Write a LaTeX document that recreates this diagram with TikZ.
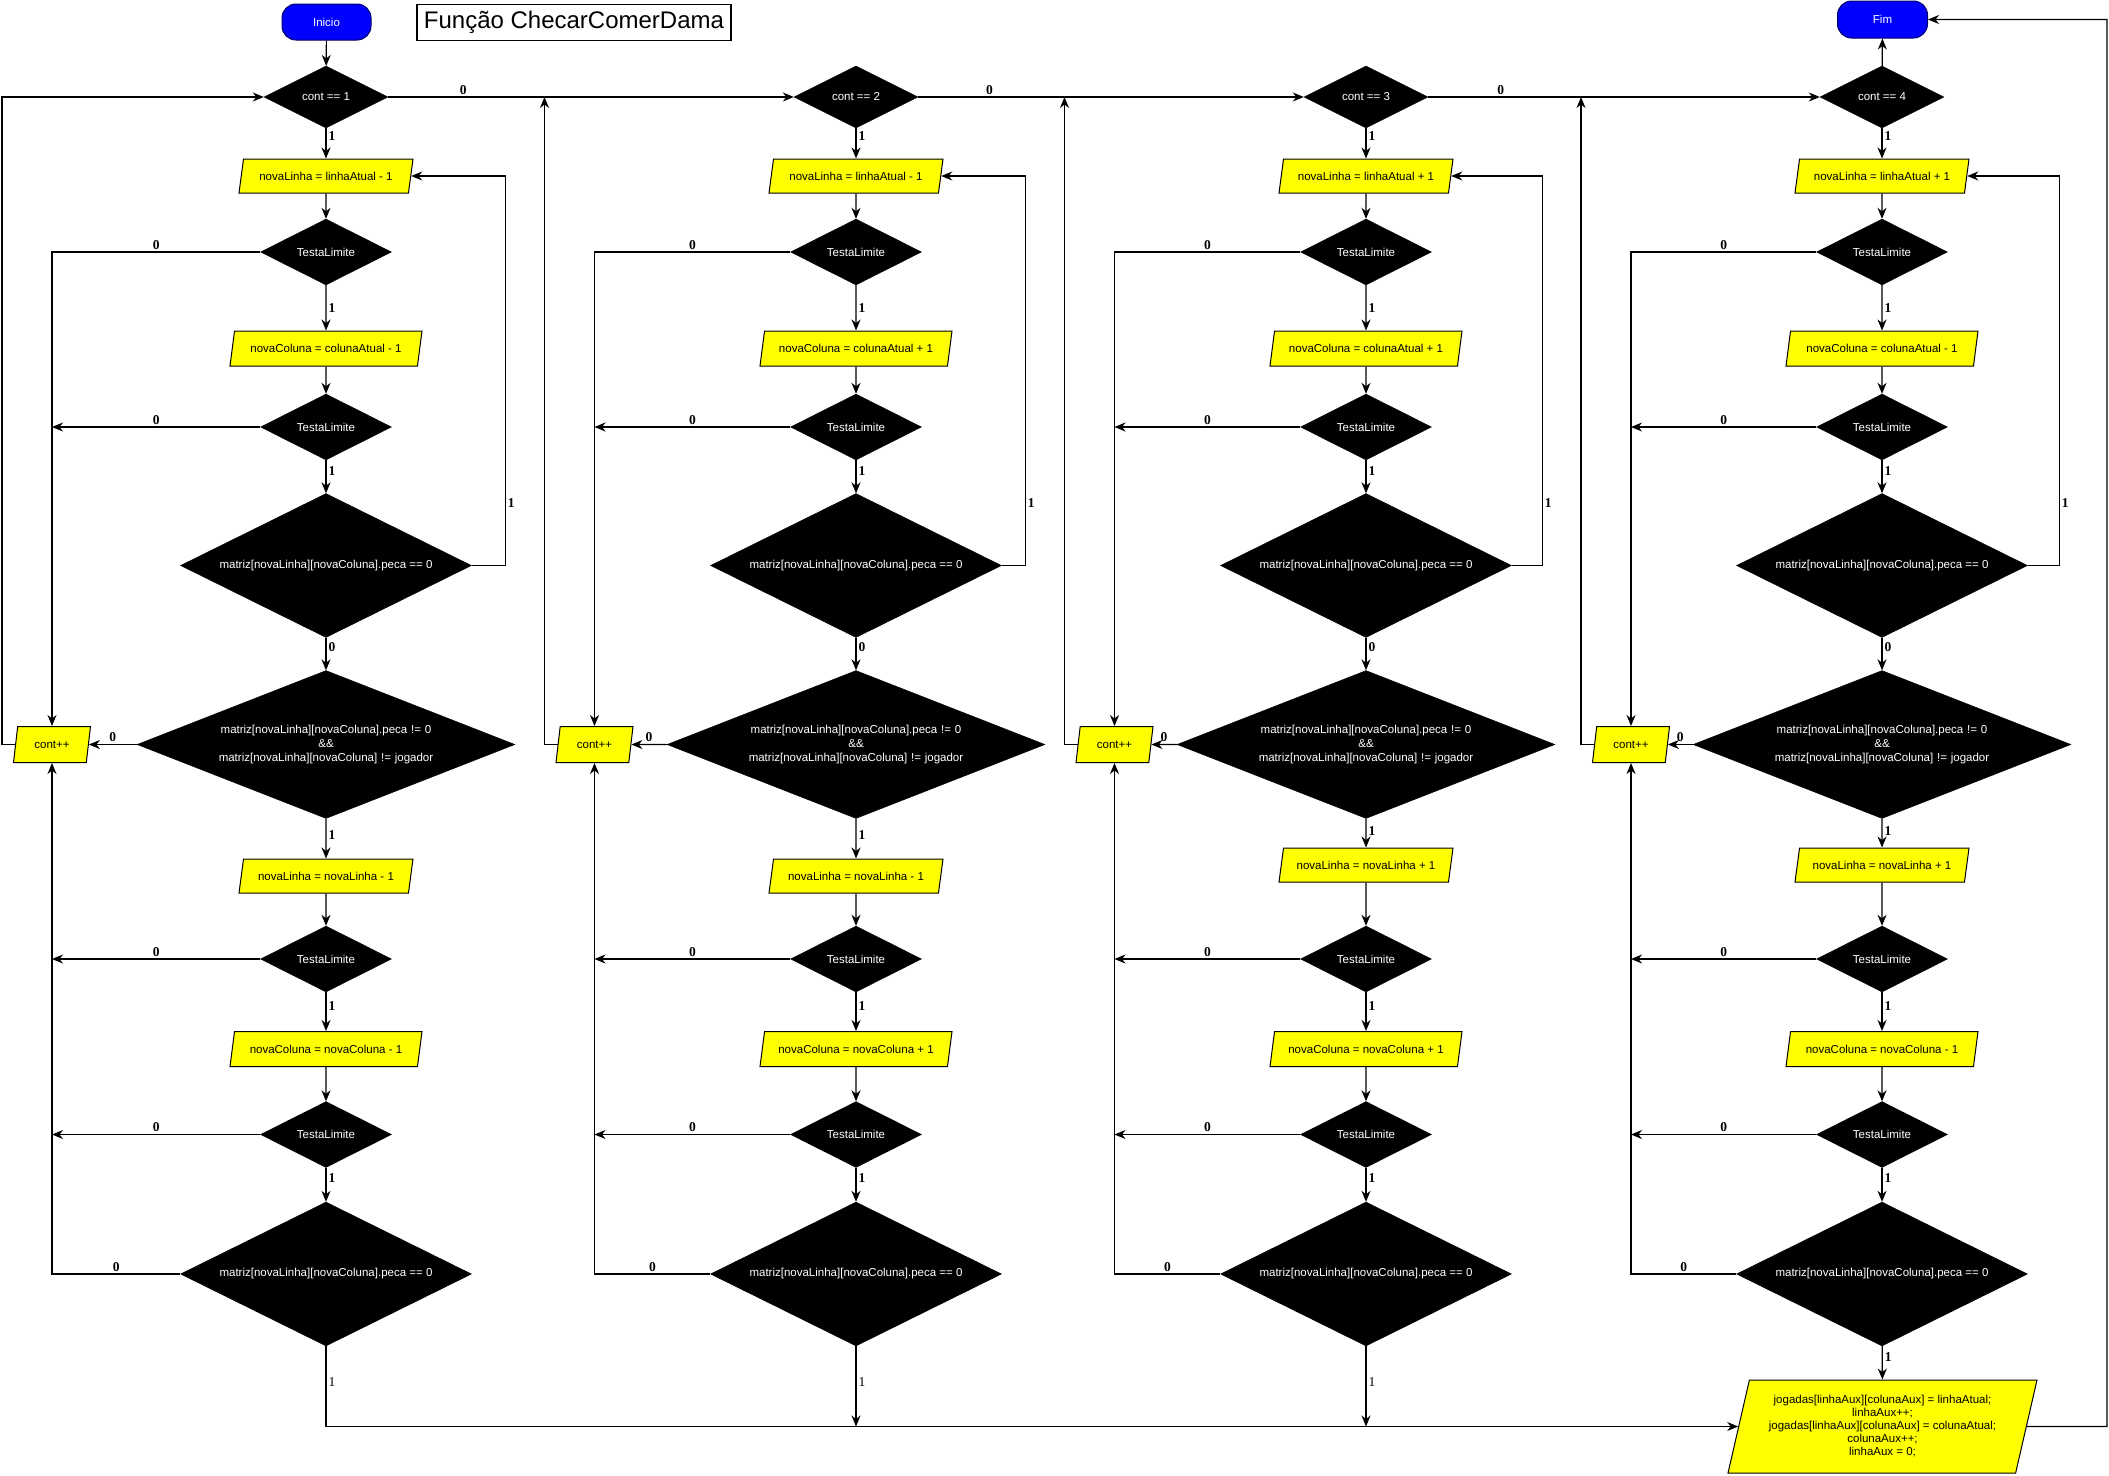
\documentclass[tikz,border=0pt]{standalone}
\usepackage{fontspec}
\setmainfont{Liberation Serif}
\setsansfont{Liberation Sans}
\usepackage{tikz}
\usetikzlibrary{shapes.geometric, arrows.meta}

\definecolor{termblue}{RGB}{0,0,255}
\definecolor{procyellow}{RGB}{255,255,0}
\newcommand{\boxfont}{\sffamily\fontsize{11.5}{14}\selectfont}

\tikzset{
  term/.style={draw=termblue!40!black, fill=termblue, text=white, rounded corners=14pt,
    minimum width=89pt, minimum height=36pt, line width=1pt, font=\boxfont},
  decision/.style={diamond, draw=black, fill=black, text=white, inner sep=1pt,
    shape aspect=2, align=center, font=\boxfont},
  proc/.style={trapezium, trapezium left angle=70, trapezium right angle=110,
    trapezium stretches body=true, draw=black, fill=procyellow, line width=1pt,
    inner sep=2pt, align=center, font=\boxfont},
  lbl/.style={font=\bfseries\fontsize{13.5}{14}\selectfont, inner sep=2pt},
  lblr/.style={font=\fontsize{13.5}{14}\selectfont, inner sep=2pt},
  flow/.style={->, >={Stealth[length=11pt, width=9pt, inset=3.5pt]}, line width=1.2pt},
}

\begin{document}
\begin{tikzpicture}[x=1pt, y=-1pt]
  \useasboundingbox (0,0) rectangle (2109,1475);
  \node[term] (ini) at (326.5,22) {Inicio};
  \node[term, minimum width=90pt, minimum height=37pt] (fim) at (1882.5,19.5) {Fim};
  \node[draw, line width=1.2pt, minimum width=314pt, minimum height=36pt, inner sep=0pt,
    font=\sffamily\fontsize{24}{28}\selectfont] (ttl) at (574,22.5) {Função ChecarComerDama};

  \foreach \col/\x/\sgl/\sgc/\xa/\ya/\xl in {1/326/-/-/52/876/33.5, 2/856/-/+/594.5/876/23.5,
      3/1366/+/+/1114.5/865/30.5, 4/1882/+/-/1631/865/31.5} {
    \node[decision, minimum width=124pt, minimum height=62pt] (c\col) at (\x,97) {cont == \col};
    \node[proc, minimum width=174pt, minimum height=34pt] (nla\col) at (\x,176) {novaLinha = linhaAtual \sgl{} 1};
    \node[decision, minimum width=131pt, minimum height=66pt] (tla\col) at (\x,252) {TestaLimite};
    \node[proc, minimum width=192pt, minimum height=35pt] (nca\col) at (\x,348.5) {novaColuna = colunaAtual \sgc{} 1};
    \node[decision, minimum width=131pt, minimum height=66pt] (tlb\col) at (\x,427) {TestaLimite};
    \node[decision, minimum width=291pt, minimum height=144pt] (ma\col) at (\x,565.5) {matriz[novaLinha][novaColuna].peca == 0};
    \node[decision, shape aspect=2.5, minimum width=378pt, minimum height=148pt, text width=240pt] (cnd\col) at (\x,744.5)
      {matriz[novaLinha][novaColuna].peca != 0\\ \&\&\\ matriz[novaLinha][novaColuna] != jogador};
    \node[proc, minimum width=77pt, minimum height=36pt] (cp\col) at (\xa,744.5) {cont++};
    \node[proc, minimum width=174pt, minimum height=34pt] (nlb\col) at (\x,\ya) {novaLinha = novaLinha \sgl{} 1};
    \node[decision, minimum width=131pt, minimum height=66pt] (tlc\col) at (\x,959) {TestaLimite};
    \node[proc, minimum width=192pt, minimum height=35pt] (ncb\col) at (\x,1049) {novaColuna = novaColuna \sgc{} 1};
    \node[decision, minimum width=131pt, minimum height=66pt] (tld\col) at (\x,1134.5) {TestaLimite};
    \node[decision, minimum width=291pt, minimum height=144pt] (mb\col) at (\x,1274) {matriz[novaLinha][novaColuna].peca == 0};
    \coordinate (rt\col) at (\xa-50,744.5);

    \draw[flow] (c\col) -- node[lbl, pos=0.26, right] {1} (nla\col);
    \draw[flow] (nla\col) -- (tla\col);
    \draw[flow] (tla\col) -- node[lbl, pos=0.5, right] {1} (nca\col);
    \draw[flow] (nca\col) -- (tlb\col);
    \draw[flow] (tlb\col) -- node[lbl, pos=0.33, right] {1} (ma\col);
    \draw[flow] (ma\col.east) -- ++(\xl,0) |- node[lbl, pos=0.08, right] {1} (nla\col);
    \draw[flow] (ma\col) -- node[lbl, pos=0.29, right] {0} (cnd\col);
    \draw[flow] (cnd\col) -- node[lbl, above] {0} (cp\col);
    \draw[flow] (cnd\col) -- node[lbl, pos=0.42, right] {1} (nlb\col);
    \draw[flow] (nlb\col) -- (tlc\col);
    \draw[flow] (tlc\col) -- node[lbl, pos=0.35, right] {1} (ncb\col);
    \draw[flow] (ncb\col) -- (tld\col);
    \draw[flow] (tld\col) -- node[lbl, pos=0.3, right] {1} (mb\col);
    \draw[flow] (tla\col.west) -| node[lbl, pos=0.25, above] {0} (cp\col.north);
    \draw[flow] (tlb\col.west) -- node[lbl, above] {0} (tlb\col.west -| cp\col.north);
    \draw[flow] (mb\col.west) -| node[lbl, pos=0.25, above] {0} (cp\col.south);
    \draw[flow] (tlc\col.west) -- node[lbl, above] {0} (tlc\col.west -| cp\col.south);
    \draw[flow] (tld\col.west) -- node[lbl, above] {0} (tld\col.west -| cp\col.south);
  }

  \node[proc, trapezium left angle=72, trapezium right angle=108, minimum width=309pt,
    minimum height=93pt, font=\sffamily\fontsize{11.5}{13}\selectfont] (fin) at (1882.5,1426.5)
    {jogadas[linhaAux][colunaAux] = linhaAtual;\\ linhaAux++;\\ jogadas[linhaAux][colunaAux] = colunaAtual;\\ colunaAux++;\\ linhaAux = 0;};
  \coordinate (rc) at (2107,1426.5);

  \draw[flow] (ini) -- (c1);
  \draw[flow] (c4) -- (fim);
  \foreach \a/\b in {1/2, 2/3, 3/4}
    \draw[flow] (c\a) -- node[lbl, pos=0.185, above] {0} (c\b);
  \draw[flow] (cp1) -- (rt1) |- (c1);
  \foreach \col in {2,3,4}
    \draw[flow] (cp\col) -- (rt\col) -- (rt\col |- c1.west);
  \draw[flow] (mb1.south) |- node[lblr, pos=0.22, right] {1} (fin);
  \foreach \col in {2,3}
    \draw[flow] (mb\col.south) -- node[lblr, pos=0.44, right] {1} (mb\col.south |- fin.west);
  \draw[flow] (mb4) -- node[lbl, pos=0.33, right] {1} (fin);
  \draw[flow] (fin) -- (rc) |- (fim);
\end{tikzpicture}
\end{document}
